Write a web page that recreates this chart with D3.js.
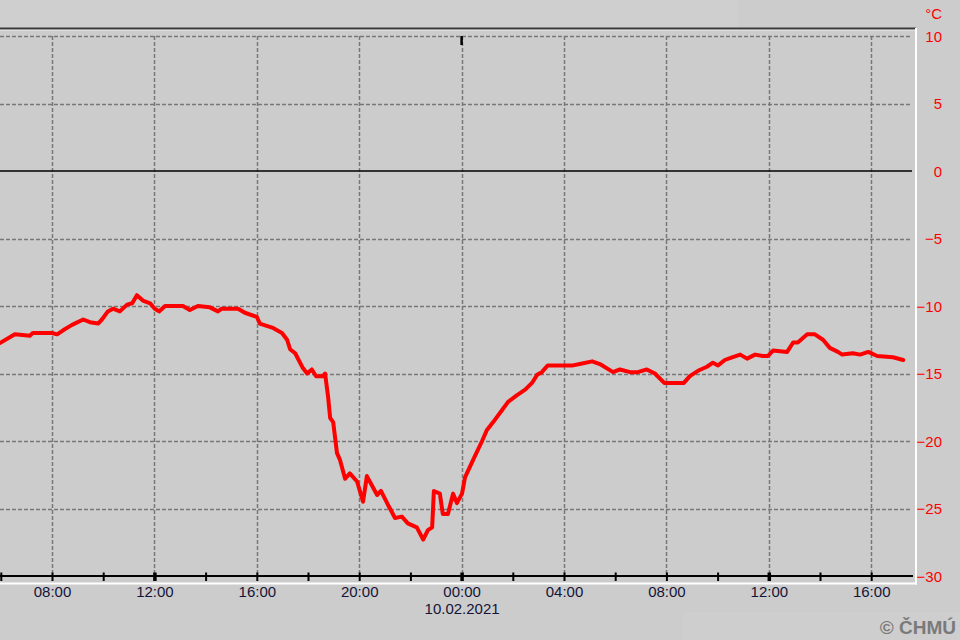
<!DOCTYPE html>
<html>
<head>
<meta charset="utf-8">
<script src="https://cdn.jsdelivr.net/npm/d3@7"></script>
<style>
  html, body { margin: 0; padding: 0; background: #cccccc; }
  svg { display: block; }
</style>
</head>
<body>
<svg id="chart" width="960" height="640"></svg>
<script>
// ---- data ----
const times = [
  "2021-02-09T05:55","2021-02-09T06:33","2021-02-09T07:08","2021-02-09T07:15","2021-02-09T08:00",
  "2021-02-09T08:12","2021-02-09T08:26","2021-02-09T08:47","2021-02-09T09:13","2021-02-09T09:29",
  "2021-02-09T09:48","2021-02-09T09:57","2021-02-09T10:11","2021-02-09T10:23","2021-02-09T10:39",
  "2021-02-09T10:56","2021-02-09T11:08","2021-02-09T11:19","2021-02-09T11:33","2021-02-09T11:50",
  "2021-02-09T12:01","2021-02-09T12:11","2021-02-09T12:25","2021-02-09T13:07","2021-02-09T13:23",
  "2021-02-09T13:42","2021-02-09T14:10","2021-02-09T14:29","2021-02-09T14:38","2021-02-09T15:16",
  "2021-02-09T15:32","2021-02-09T16:00","2021-02-09T16:07","2021-02-09T16:36","2021-02-09T16:59",
  "2021-02-09T17:11","2021-02-09T17:18","2021-02-09T17:30","2021-02-09T17:48","2021-02-09T17:58",
  "2021-02-09T18:09","2021-02-09T18:19","2021-02-09T18:35","2021-02-09T18:40","2021-02-09T18:47",
  "2021-02-09T18:52","2021-02-09T18:59","2021-02-09T19:08","2021-02-09T19:15","2021-02-09T19:27",
  "2021-02-09T19:38","2021-02-09T19:55","2021-02-09T20:09","2021-02-09T20:18","2021-02-09T20:42",
  "2021-02-09T20:51","2021-02-09T21:07","2021-02-09T21:24","2021-02-09T21:40","2021-02-09T21:54",
  "2021-02-09T22:15","2021-02-09T22:30","2021-02-09T22:41","2021-02-09T22:51","2021-02-09T22:55",
  "2021-02-09T23:09","2021-02-09T23:16","2021-02-09T23:28","2021-02-09T23:40","2021-02-09T23:49",
  "2021-02-10T00:01","2021-02-10T00:08","2021-02-10T00:27","2021-02-10T00:48","2021-02-10T00:59",
  "2021-02-10T01:14","2021-02-10T01:35","2021-02-10T01:49","2021-02-10T02:10","2021-02-10T02:29",
  "2021-02-10T02:45","2021-02-10T02:57","2021-02-10T03:08","2021-02-10T03:22","2021-02-10T04:21",
  "2021-02-10T04:37","2021-02-10T05:06","2021-02-10T05:24","2021-02-10T05:55","2021-02-10T06:11",
  "2021-02-10T06:35","2021-02-10T06:53","2021-02-10T07:14","2021-02-10T07:33","2021-02-10T07:55",
  "2021-02-10T08:41","2021-02-10T08:55","2021-02-10T09:14","2021-02-10T09:35","2021-02-10T09:49",
  "2021-02-10T10:01","2021-02-10T10:17","2021-02-10T10:34","2021-02-10T10:53","2021-02-10T11:09",
  "2021-02-10T11:28","2021-02-10T11:46","2021-02-10T11:58","2021-02-10T12:10","2021-02-10T12:43",
  "2021-02-10T12:57","2021-02-10T13:08","2021-02-10T13:30","2021-02-10T13:48","2021-02-10T14:07",
  "2021-02-10T14:23","2021-02-10T14:42","2021-02-10T14:52","2021-02-10T15:17","2021-02-10T15:34",
  "2021-02-10T15:53","2021-02-10T16:14","2021-02-10T16:51","2021-02-10T17:15"
];
const temps = [
  -12.8,-12.1,-12.2,-12.0,-12.0,
  -12.1,-11.8,-11.4,-11.0,-11.2,
  -11.3,-11.0,-10.4,-10.2,-10.4,
  -9.9,-9.8,-9.2,-9.6,-9.8,
  -10.2,-10.4,-10.0,-10.0,-10.3,
  -10.0,-10.1,-10.4,-10.2,-10.2,
  -10.5,-10.8,-11.3,-11.6,-12.0,
  -12.5,-13.2,-13.5,-14.6,-15.0,
  -14.7,-15.2,-15.2,-15.0,-16.7,
  -18.3,-18.6,-20.9,-21.4,-22.8,
  -22.4,-23.0,-24.5,-22.6,-24.0,
  -23.7,-24.7,-25.7,-25.6,-26.1,
  -26.4,-27.3,-26.6,-26.4,-23.7,
  -23.9,-25.4,-25.4,-23.9,-24.6,
  -23.9,-22.7,-21.4,-20.0,-19.2,
  -18.6,-17.7,-17.1,-16.6,-16.2,
  -15.7,-15.1,-14.9,-14.4,-14.4,
  -14.3,-14.1,-14.3,-14.9,-14.7,
  -14.9,-14.9,-14.7,-15.0,-15.7,
  -15.7,-15.2,-14.8,-14.5,-14.2,
  -14.4,-14.0,-13.8,-13.6,-13.9,
  -13.6,-13.7,-13.7,-13.3,-13.4,
  -12.7,-12.7,-12.1,-12.1,-12.5,
  -13.1,-13.4,-13.6,-13.5,-13.6,
  -13.4,-13.7,-13.8,-14.0
];
const yTicks = [10, 5, 0, -5, -10, -15, -20, -25, -30];
const timeDomain = ["2021-02-09T06:00", "2021-02-10T17:45"];
const dateLabel = "10.02.2021";
const unitLabel = "°C";
const credit = "© ČHMÚ";

// ---- layout ----
const parse = d3.timeParse("%Y-%m-%dT%H:%M");
const data = times.map((t, i) => ({ t: parse(t), v: temps[i] }));

const svg = d3.select("#chart");
const plotLeft = 0, plotRight = 912, frameRight = 916;
const x = d3.scaleTime().domain(timeDomain.map(parse)).range([0.8, 916]);
const y = d3.scaleLinear().domain([-30, 10]).range([576, 36]);

// background panels
svg.append("rect").attr("x", 0).attr("y", 0).attr("width", 960).attr("height", 640).attr("fill", "#cccccc");
svg.append("rect").attr("x", 0).attr("y", 0).attr("width", 738).attr("height", 27).attr("fill", "#cfcfcf");
svg.append("rect").attr("x", 683).attr("y", 612).attr("width", 277).attr("height", 28).attr("fill", "#cecece");

// horizontal grid
const grid = svg.append("g");
grid.selectAll("line.h").data(yTicks.filter(v => v !== 0 && v !== -30)).join("line")
  .attr("x1", plotLeft).attr("x2", plotRight)
  .attr("y1", d => Math.round(y(d)) + 0.5).attr("y2", d => Math.round(y(d)) + 0.5)
  .attr("stroke", "#777777").attr("stroke-width", 1.5).attr("stroke-dasharray", "4,2");

// vertical grid every 4h
const majorTicks = d3.timeHour.every(4).range(x.domain()[0], x.domain()[1]);
const allTicks = d3.timeHour.every(2).range(x.domain()[0], d3.timeMinute.offset(x.domain()[1], 1));
grid.selectAll("line.v").data(majorTicks.filter(d => x(d) > 5)).join("line")
  .attr("x1", d => Math.round(x(d)) + 0.5).attr("x2", d => Math.round(x(d)) + 0.5)
  .attr("y1", y(10)).attr("y2", y(-30))
  .attr("stroke", "#777777").attr("stroke-width", 1.5).attr("stroke-dasharray", "4,2");

// zero line
svg.append("line").attr("x1", plotLeft).attr("x2", plotRight)
  .attr("y1", y(0)).attr("y2", y(0)).attr("stroke", "#000").attr("stroke-width", 1.5);

// top frame
svg.append("line").attr("x1", 0).attr("x2", frameRight).attr("y1", 28.5).attr("y2", 28.5)
  .attr("stroke", "#3a3a3a").attr("stroke-width", 2);
svg.append("line").attr("x1", 0).attr("x2", frameRight).attr("y1", 30.3).attr("y2", 30.3)
  .attr("stroke", "#dedede").attr("stroke-width", 1.2);
// right & bottom white frame
svg.append("line").attr("x1", frameRight).attr("x2", frameRight).attr("y1", 28).attr("y2", 584.5)
  .attr("stroke", "#ffffff").attr("stroke-width", 2);
svg.append("line").attr("x1", 0).attr("x2", frameRight + 1).attr("y1", 583.5).attr("y2", 583.5)
  .attr("stroke", "#ffffff").attr("stroke-width", 2);

// midnight marker at top
const midnight = parse("2021-02-10T00:00");
svg.append("line").attr("x1", x(midnight)).attr("x2", x(midnight)).attr("y1", 36).attr("y2", 45)
  .attr("stroke", "#000").attr("stroke-width", 2.5);

// temperature line
svg.append("defs").append("clipPath").attr("id", "clip")
  .append("rect").attr("x", 0).attr("y", 30).attr("width", plotRight).attr("height", 546);
svg.append("path").datum(data)
  .attr("clip-path", "url(#clip)")
  .attr("fill", "none").attr("stroke", "#ff0000").attr("stroke-width", 4)
  .attr("stroke-linejoin", "round").attr("stroke-linecap", "round")
  .attr("d", d3.line().x(d => x(d.t)).y(d => y(d.v)));

// x axis
const fmt = d3.timeFormat("%H:%M");
const xAxis = d3.axisBottom(x).tickValues(allTicks)
  .tickSize(0).tickPadding(0)
  .tickFormat(d => d.getHours() % 4 === 0 ? fmt(d) : "");
const gx = svg.append("g").attr("transform", `translate(0,${y(-30)})`).call(xAxis);
gx.select(".domain").remove();
svg.append("line").attr("x1", 0).attr("x2", plotRight + 1).attr("y1", y(-30)).attr("y2", y(-30))
  .attr("stroke", "#000").attr("stroke-width", 2);
gx.selectAll(".tick line")
  .attr("y1", -3.5).attr("y2", 5)
  .attr("stroke", "#000")
  .attr("stroke-width", d => d.getHours() % 12 === 0 ? 3.5 : 2);
gx.selectAll(".tick text")
  .attr("y", 16).attr("dy", "0.35em")
  .attr("fill", "#141438")
  .attr("font-family", "Arial, 'Liberation Sans', sans-serif").attr("font-size", 15);
gx.selectAll(".tick").filter(d => +d === +midnight).append("text")
  .attr("y", 33).attr("dy", "0.35em").attr("text-anchor", "middle")
  .attr("fill", "#141438")
  .attr("font-family", "Arial, 'Liberation Sans', sans-serif").attr("font-size", 15)
  .text(dateLabel);

// y axis on right
const yAxis = d3.axisRight(y).tickValues(yTicks).tickSize(0).tickPadding(0).tickFormat(d3.format("d"));
const gy = svg.append("g").attr("transform", "translate(942,0)").call(yAxis);
gy.select(".domain").remove();
gy.selectAll(".tick text")
  .attr("x", 0).attr("text-anchor", "end").attr("dy", "0.35em")
  .attr("fill", "#ff0000")
  .attr("font-family", "Arial, 'Liberation Sans', sans-serif").attr("font-size", 15);

svg.append("text").attr("x", 942).attr("y", 14).attr("dy", "0.35em").attr("text-anchor", "end")
  .attr("fill", "#ff0000")
  .attr("font-family", "Arial, 'Liberation Sans', sans-serif").attr("font-size", 15)
  .text(unitLabel);

// credit
svg.append("text").attr("x", 956).attr("y", 627).attr("dy", "0.35em").attr("text-anchor", "end")
  .attr("fill", "#7a7a7a").attr("font-weight", "bold")
  .attr("font-family", "Arial, 'Liberation Sans', sans-serif").attr("font-size", 19)
  .text(credit);
</script>
</body>
</html>
